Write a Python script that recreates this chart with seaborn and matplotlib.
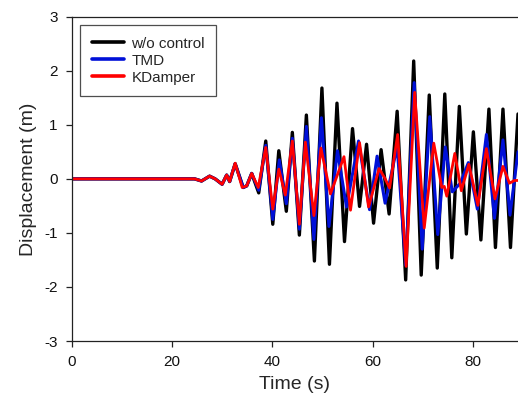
import matplotlib
matplotlib.use("Agg")
import matplotlib.pyplot as plt
import seaborn as sns
import pandas as pd

# Data (extrema of each response, time in s, displacement in m)
t_black = [0, 24.5, 25.9, 27.5, 28.6, 30.0, 30.9, 31.5, 32.6, 34.2, 34.9, 35.9, 37.3, 38.7,
           40.1, 41.3, 42.8, 44.0, 45.4, 46.8, 48.4, 49.9, 51.4, 52.9, 54.4, 56.0, 57.4, 58.8,
           60.2, 61.7, 63.3, 64.9, 66.6, 68.2, 69.7, 71.3, 72.9, 74.4, 75.8, 77.3, 78.7, 80.1,
           81.6, 83.2, 84.5, 86.0, 87.5, 89.0]
y_black = [0, 0, -0.04, 0.05, 0.0, -0.1, 0.07, -0.05, 0.28, -0.16, -0.13, 0.1, -0.26, 0.70,
           -0.84, 0.52, -0.60, 0.86, -1.04, 1.18, -1.52, 1.68, -1.58, 1.40, -1.16, 0.93, -0.51, 0.64,
           -0.82, 0.54, -0.65, 1.25, -1.87, 2.18, -1.78, 1.55, -1.65, 1.57, -1.46, 1.34, -1.02, 0.87,
           -1.13, 1.29, -1.27, 1.29, -1.27, 1.2]

t_tmd = [0, 24.5, 25.9, 27.5, 28.6, 30.0, 30.9, 31.5, 32.6, 34.2, 34.9, 35.9, 37.3, 38.7,
         40.1, 41.4, 42.8, 44.0, 45.4, 46.8, 48.3, 49.8, 51.3, 53.0, 54.8, 57.2, 59.4, 60.9,
         62.5, 64.9, 66.6, 68.3, 69.9, 71.4, 73.0, 74.5, 75.9, 77.5, 79.1, 80.9, 82.7, 84.3,
         86.0, 87.4, 89.0]
y_tmd = [0, 0, -0.04, 0.05, 0.0, -0.1, 0.07, -0.05, 0.28, -0.16, -0.13, 0.1, -0.21, 0.62,
         -0.75, 0.35, -0.46, 0.75, -0.93, 0.97, -1.12, 1.13, -0.88, 0.52, -0.52, 0.70, -0.57, 0.42,
         -0.45, 0.60, -1.6, 1.78, -1.30, 1.15, -1.03, 0.59, -0.24, -0.08, 0.30, -0.56, 0.82, -0.73,
         0.72, -0.67, 0.5]

t_kd = [0, 24.5, 25.9, 27.5, 28.6, 30.0, 30.9, 31.5, 32.6, 34.0, 34.9, 35.9, 37.2, 38.7,
        40.1, 41.3, 42.6, 44.0, 45.4, 46.6, 48.3, 49.7, 51.6, 54.3, 55.6, 57.4, 59.2, 61.3,
        62.4, 63.4, 65.0, 66.7, 68.4, 70.3, 72.2, 73.8, 74.3, 74.8, 76.4, 77.7, 79.2, 81.0,
        82.7, 84.4, 86.0, 87.3, 88.3, 89.0]
y_kd = [0, 0, -0.04, 0.05, 0.0, -0.1, 0.07, -0.05, 0.29, -0.16, -0.13, 0.1, -0.16, 0.58,
        -0.56, 0.18, -0.30, 0.70, -0.84, 0.68, -0.68, 0.57, -0.28, 0.41, -0.58, 0.67, -0.52, 0.19,
        0.02, -0.17, 0.82, -1.62, 1.60, -0.91, 0.66, -0.16, -0.14, -0.32, 0.47, -0.22, 0.27, -0.49,
        0.56, -0.37, 0.23, -0.08, -0.03, -0.03]

labels = ["w/o control", "TMD", "KDamper"]
colors = ["#000000", "#0010d8", "#ff0000"]
x_ticks = [0, 20, 40, 60, 80]
y_ticks = [-3, -2, -1, 0, 1, 2, 3]

sns.set_style("ticks")
plt.rcParams["font.family"] = ["Liberation Sans", "DejaVu Sans"]
plt.rcParams["axes.unicode_minus"] = False

fig = plt.figure(figsize=(5.18, 4.12), dpi=100)
ax = fig.add_axes([0.1384, 0.1723, 0.8616, 0.7872])

series = [(t_black, y_black), (t_tmd, y_tmd), (t_kd, y_kd)]
widths = [2.4, 2.2, 2.0]
for (tt, yy), lab, col, lw in zip(series, labels, colors, widths):
    df = pd.DataFrame({"t": tt, "y": yy})
    sns.lineplot(data=df, x="t", y="y", ax=ax, color=col, linewidth=lw,
                 label=lab, estimator=None, sort=False)

ax.set_xlim(0, 89.0)
ax.set_ylim(-3, 3)
ax.set_xticks(x_ticks)
ax.set_yticks(y_ticks)
ax.tick_params(direction="out", length=4, width=0.9, labelsize=11, colors="#222222",
               labelcolor="#111111")
ax.tick_params(axis="x", pad=6)
ax.tick_params(axis="y", pad=6)
for s in ["left", "bottom", "top"]:
    ax.spines[s].set_linewidth(0.9)
    ax.spines[s].set_color("#222222")
ax.spines["right"].set_visible(False)

ax.set_xlabel("Time (s)", fontsize=14, labelpad=5)
ax.set_ylabel("Displacement (m)", fontsize=14, labelpad=5)

leg = ax.legend(loc="upper left", fontsize=11, frameon=True, fancybox=False,
                handlelength=2.15, handletextpad=0.45, labelspacing=0.2,
                borderpad=0.75, borderaxespad=0.55)
leg.get_frame().set_edgecolor("#222222")
leg.get_frame().set_linewidth(0.9)
for line in leg.get_lines():
    line.set_linewidth(2.6)

fig.savefig("out.png", dpi=100)
